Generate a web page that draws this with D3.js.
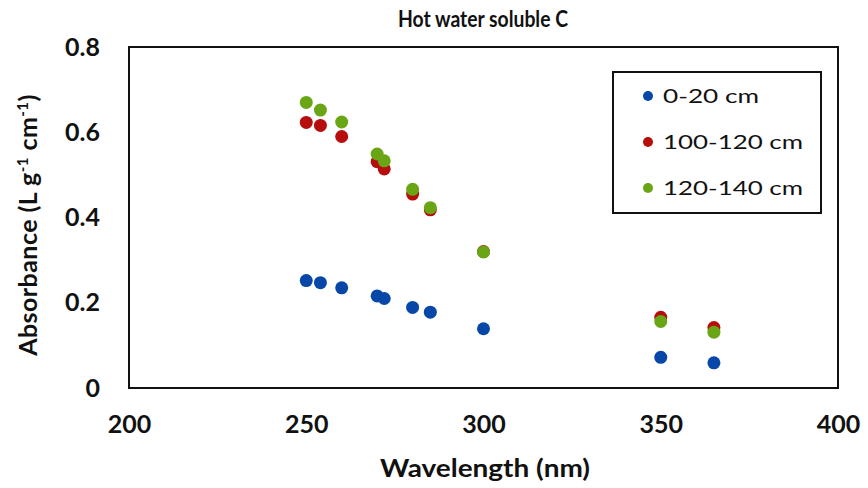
<!DOCTYPE html>
<html><head><meta charset="utf-8">
<script src="https://cdn.jsdelivr.net/npm/d3@7"></script>
<style>body{margin:0;background:#fff}svg{display:block;font-family:Lato,"Open Sans",sans-serif}</style>
</head><body><svg id="c" width="868" height="488"></svg>
<script>
const wavelengths = [250, 254, 260, 270, 272, 280, 285, 300, 350, 365];
const depth0_20 = [0.252, 0.247, 0.235, 0.216, 0.210, 0.189, 0.178, 0.139, 0.072, 0.059];
const depth100_120 = [0.623, 0.616, 0.590, 0.531, 0.514, 0.455, 0.418, 0.320, 0.166, 0.142];
const depth120_140 = [0.670, 0.652, 0.624, 0.549, 0.533, 0.466, 0.423, 0.319, 0.156, 0.131];
const seriesNames = ["0-20 cm", "100-120 cm", "120-140 cm"];
const seriesColors = ["#0747a8", "#b80d0d", "#6aa516"];
const xTicks = [200, 250, 300, 350, 400];
const yTicks = [0, 0.2, 0.4, 0.6, 0.8];

const svg = d3.select("#c");
const L = 129, R = 838, T = 47, B = 388;
const x = d3.scaleLinear().domain([200, 400]).range([L, R]);
const y = d3.scaleLinear().domain([0, 0.8]).range([B, T]);

svg.append("text").attr("x", 483).attr("y", 27).attr("text-anchor", "middle")
  .attr("font-size", 23).attr("font-weight", "bold").attr("fill", "#111")
  .attr("textLength", 170).attr("lengthAdjust", "spacingAndGlyphs").text("Hot water soluble C");

const xAxis = svg.append("g").attr("transform", `translate(0,${B})`)
  .call(d3.axisBottom(x).tickValues(xTicks).tickSize(0).tickPadding(27).tickFormat(d3.format("d")));
xAxis.select(".domain").remove();
xAxis.selectAll("text").attr("font-size", 25).attr("font-weight", "bold").attr("fill", "#111").attr("font-family", "Lato");

const yAxis = svg.append("g").attr("transform", `translate(${L},0)`)
  .call(d3.axisLeft(y).tickValues(yTicks).tickSize(0).tickPadding(29).tickFormat(d => d === 0 ? "0" : d3.format(".1f")(d)));
yAxis.select(".domain").remove();
yAxis.selectAll("text").attr("font-size", 25).attr("font-weight", "bold").attr("fill", "#111").attr("font-family", "Lato");

svg.append("rect").attr("x", L).attr("y", T).attr("width", R - L).attr("height", B - T)
  .attr("fill", "none").attr("stroke", "#111").attr("stroke-width", 2);

const series = [depth0_20, depth100_120, depth120_140];
series.forEach((vals, i) => {
  svg.append("g").selectAll("circle").data(vals).join("circle")
    .attr("cx", (d, j) => x(wavelengths[j])).attr("cy", d => y(d))
    .attr("r", 6.5).attr("fill", seriesColors[i]);
});

svg.append("text").attr("x", 485).attr("y", 477).attr("text-anchor", "middle")
  .attr("font-size", 25).attr("font-weight", "bold").attr("fill", "#111")
  .attr("textLength", 210).attr("lengthAdjust", "spacingAndGlyphs").text("Wavelength (nm)");

const yl = svg.append("text").attr("transform", "translate(37,225) rotate(-90)").attr("text-anchor", "middle")
  .attr("font-size", 25).attr("font-weight", "bold").attr("fill", "#111").attr("letter-spacing", 0.45);
yl.append("tspan").text("Absorbance (L g");
yl.append("tspan").attr("dy", -9).attr("font-size", 15).text("-1");
yl.append("tspan").attr("dy", 9).text(" cm");
yl.append("tspan").attr("dy", -9).attr("font-size", 15).text("-1");
yl.append("tspan").attr("dy", 9).text(")");

const lg = svg.append("g");
lg.append("rect").attr("x", 613).attr("y", 72).attr("width", 208).attr("height", 141)
  .attr("fill", "#fff").attr("stroke", "#111").attr("stroke-width", 2);
const legendWidths = [96, 140, 140];
seriesNames.forEach((n, i) => {
  const yy = 96 + i * 46;
  lg.append("circle").attr("cx", 648).attr("cy", yy).attr("r", 5).attr("fill", seriesColors[i]);
  lg.append("text").attr("x", 663).attr("y", yy + 7).attr("font-size", 20).attr("fill", "#111")
    .attr("textLength", legendWidths[i]).attr("lengthAdjust", "spacingAndGlyphs").text(n);
});
</script></body></html>
